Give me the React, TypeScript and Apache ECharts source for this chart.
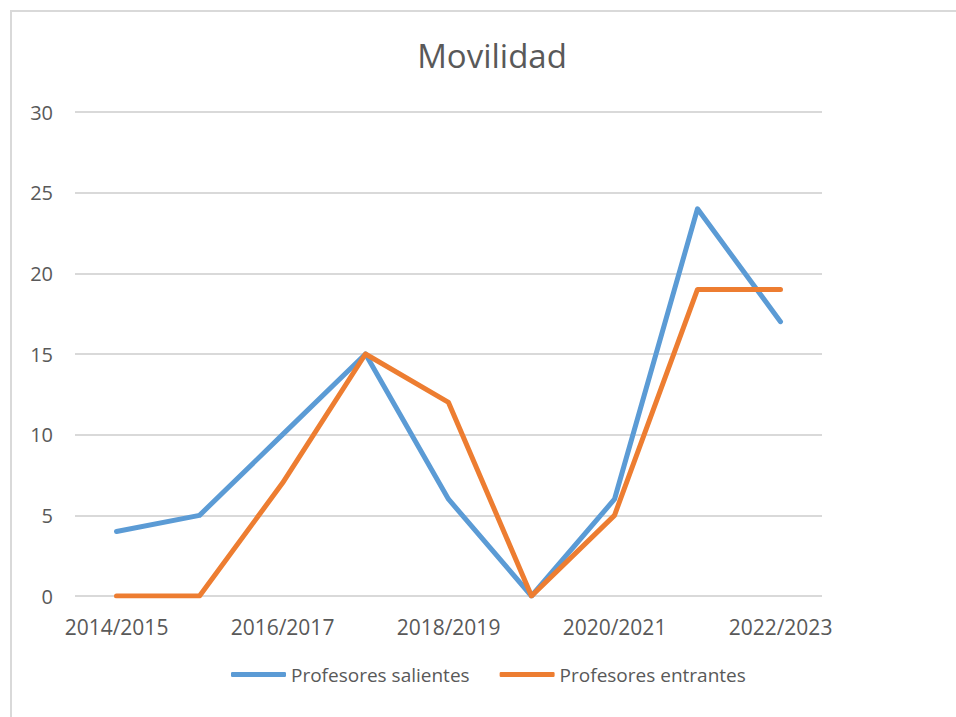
import React, { useEffect, useRef } from "react";
import * as echarts from "echarts";

const categories = [
  "2014/2015", "2015/2016", "2016/2017", "2017/2018", "2018/2019",
  "2019/2020", "2020/2021", "2021/2022", "2022/2023",
];
const salientes = [4, 5, 10, 15, 6, 0, 6, 24, 17];
const entrantes = [0, 0, 7, 15, 12, 0, 5, 19, 19];
const seriesNames = ["Profesores salientes", "Profesores entrantes"];
const titleText = "Movilidad";

const FONT = "Open Sans";
const TXT = "#595959";

export default function App() {
  const ref = useRef<HTMLDivElement>(null);
  useEffect(() => {
    if (!ref.current) return;
    const chart = echarts.init(ref.current, undefined, { renderer: "svg" });
    chart.setOption({
      animation: false,
      backgroundColor: "#ffffff",
      title: {
        text: titleText,
        left: 487,
        top: 34,
        textAlign: "center",
        textStyle: { fontFamily: FONT, fontSize: 33, fontWeight: "normal", color: TXT },
      },
      graphic: [
        {
          type: "rect",
          shape: { x: 11, y: 11, width: 1200, height: 1200 },
          style: { fill: "none", stroke: "#d9d9d9", lineWidth: 2 },
          silent: true,
        },
      ],
      grid: { left: 75, right: 134, top: 112, bottom: 121, containLabel: false },
      legend: {
        bottom: 28,
        left: 226,
        icon: "roundRect",
        itemWidth: 55,
        itemHeight: 5,
        itemGap: 30,
        textStyle: { fontFamily: FONT, fontSize: 19, color: TXT },
        data: seriesNames,
      },
      xAxis: {
        type: "category",
        data: categories,
        boundaryGap: true,
        axisLine: { show: false },
        axisTick: { show: false },
        axisLabel: {
          interval: 1,
          fontFamily: FONT,
          fontSize: 21,
          color: TXT,
          margin: 20,
        },
      },
      yAxis: {
        type: "value",
        min: 0,
        max: 30,
        interval: 5,
        axisLine: { show: false },
        axisTick: { show: false },
        axisLabel: { fontFamily: FONT, fontSize: 20, color: TXT, margin: 22 },
        splitLine: { lineStyle: { color: "#d9d9d9", width: 2 } },
      },
      series: [
        {
          name: seriesNames[0],
          type: "line",
          data: salientes,
          symbol: "none",
          lineStyle: { color: "#5b9bd5", width: 5, cap: "round", join: "round" },
          itemStyle: { color: "#5b9bd5" },
        },
        {
          name: seriesNames[1],
          type: "line",
          data: entrantes,
          symbol: "none",
          lineStyle: { color: "#ed7d31", width: 5, cap: "round", join: "round" },
          itemStyle: { color: "#ed7d31" },
        },
      ],
    });
    return () => chart.dispose();
  }, []);
  return (
    <div
      ref={ref}
      style={{ position: "absolute", left: 0, top: 0, width: 956, height: 717 }}
    />
  );
}
